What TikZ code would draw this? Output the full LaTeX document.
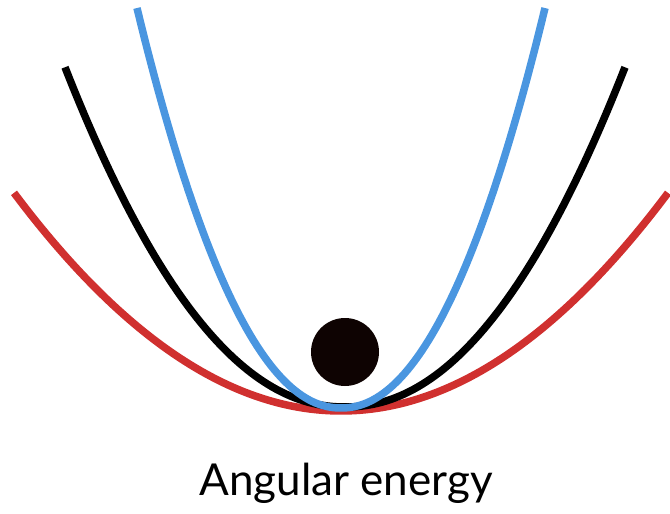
\documentclass[tikz,border=0pt]{standalone}
\usepackage{fontspec}
\setmainfont{Lato}
\definecolor{cred}{HTML}{D0302F}
\definecolor{cblue}{HTML}{4A96E0}
\definecolor{cdot}{HTML}{0E0302}
\begin{document}
\begin{tikzpicture}[x=1pt,y=-1pt,
  curve/.style={line width=7.5pt, line cap=butt, line join=round},
  ball/.style={circle, fill=cdot, minimum size=68pt, inner sep=0pt},
  caption/.style={font=\fontsize{44}{50}\selectfont, inner sep=0pt, anchor=base}]
\useasboundingbox (0,0) rectangle (670,514);
% red (widest)
\draw[curve, cred] plot[domain=14:668, samples=120] (\x, {411-20.4*((\x-341)/100)^2});
% black (middle)
\draw[curve, black] plot[domain=65:625, samples=120] (\x, {407-39.1*pow(abs((\x-345)/100),2.1)});
% blue (narrow)
\draw[curve, cblue] plot[domain=137:545, samples=120] (\x, {408-89.5*pow(abs((\x-341)/100),2.1)});
\node[ball] (dot) at (345,352) {};
\node[caption] (label) at (346,495) {Angular energy};
\end{tikzpicture}
\end{document}
